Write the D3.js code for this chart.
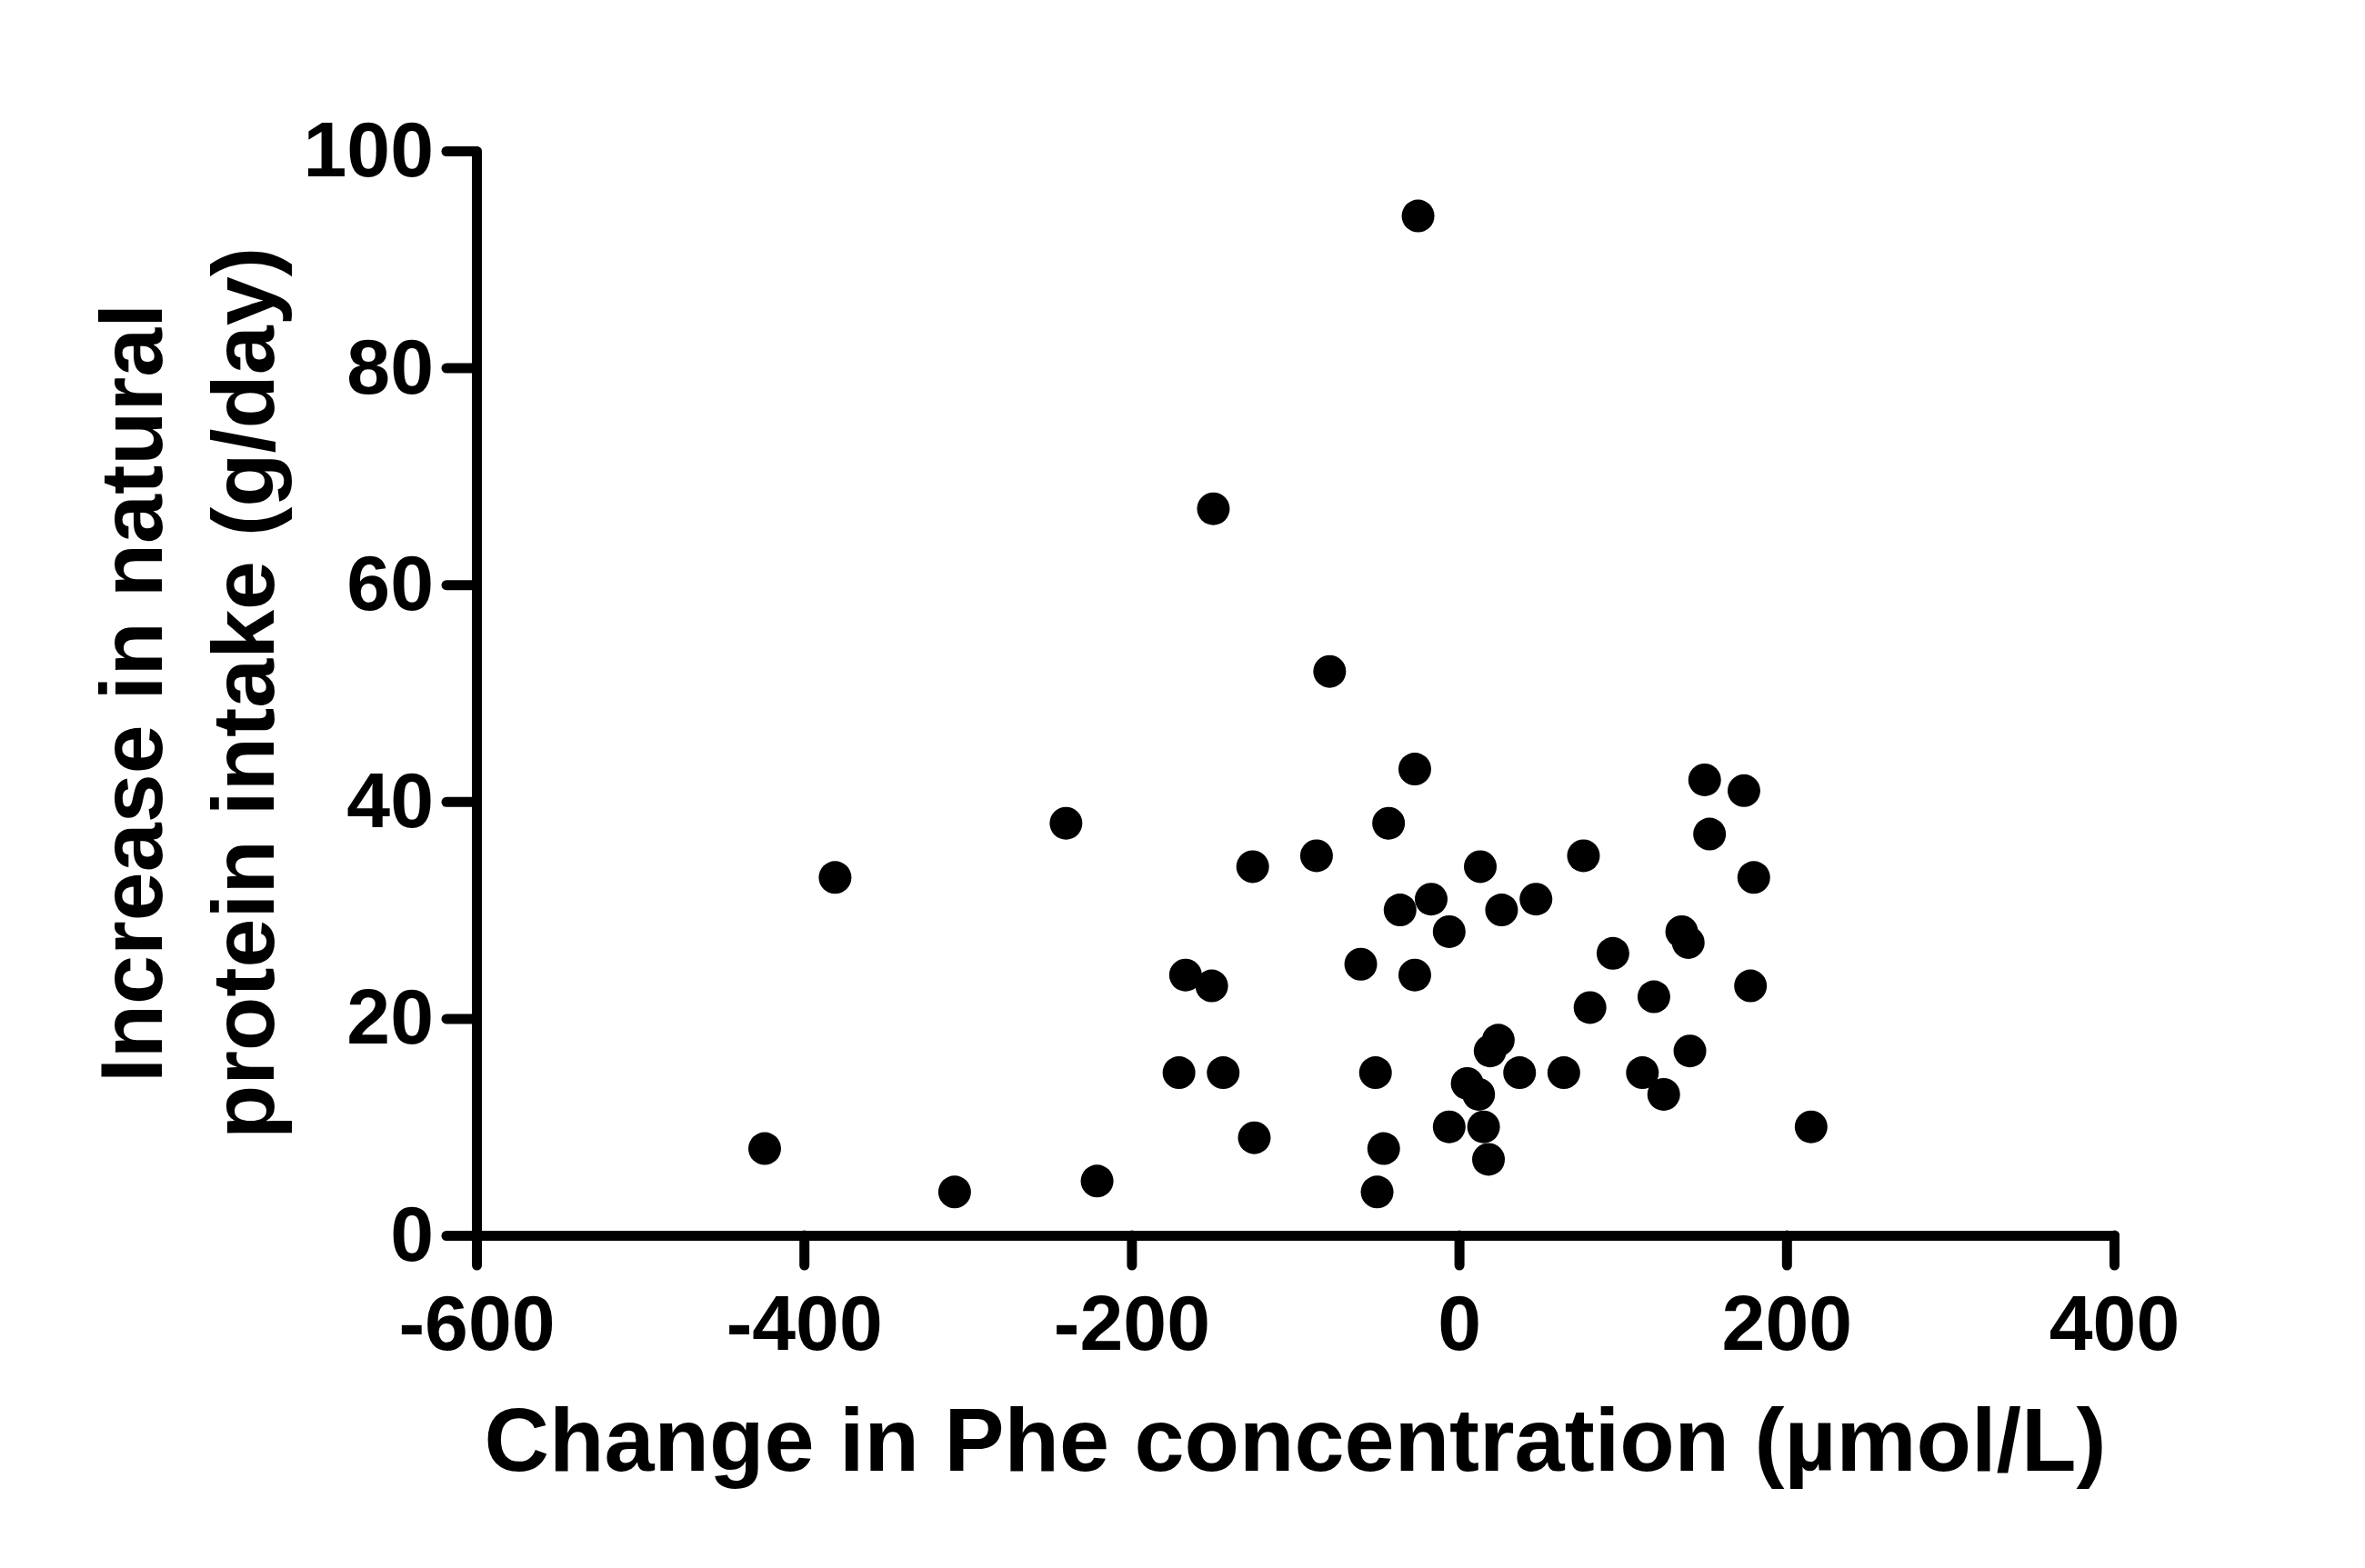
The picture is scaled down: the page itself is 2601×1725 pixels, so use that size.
<!DOCTYPE html>
<html>
<head>
<meta charset="utf-8">
<script src="https://cdn.jsdelivr.net/npm/d3@7"></script>
<style>
	body { margin: 0; background: #fff; }
	text { font-family: "Liberation Sans", Arial, sans-serif; font-weight: bold; fill: #000; }
</style>
</head>
<body>
<svg id="chart" width="2601" height="1725"></svg>
<script>
//------------------------------------------------------------------------------
// Data

var phe = [
	-424, -381, -308, -240, -221, -171, -167, -151, -150, -144,
	-126, -125, -87, -79, -60, -51, -50, -46, -43, -36,
	-27, -27, -25, -17, -6, -6, 5, 12, 13, 15,
	18, 19, 24, 26, 37, 47, 64, 76, 80, 94,
	112, 119, 125, 136, 140, 141, 150, 153, 174, 178,
	180, 215
];
var protein = [
	8, 33, 4, 38, 5, 15, 24, 23, 67, 15,
	34, 9, 35, 52, 25, 15, 4, 8, 38, 30,
	43, 24, 94, 31, 28, 10, 14, 13, 34, 10,
	7, 17, 18, 30, 15, 31, 15, 35, 21, 26,
	15, 22, 13, 28, 27, 17, 42, 37, 41, 23,
	33, 10
];
var xTicks = [-600, -400, -200, 0, 200, 400];
var yTicks = [0, 20, 40, 60, 80, 100];
var xTitle = 'Change in Phe concentration (\u00b5mol/L)';
var yTitle = ['Increase in natural', 'protein intake (g/day)'];

//------------------------------------------------------------------------------
// Layout

var svg = d3.select('#chart');
var x = d3.scaleLinear().domain([-600, 400]).range([524, 2325]);
var y = d3.scaleLinear().domain([0, 100]).range([1359, 166]);

function styleAxis(g)
{
	g.selectAll('path, line')
		.attr('stroke', '#000')
		.attr('stroke-width', 11)
		.attr('stroke-linecap', 'round');
	g.selectAll('text')
		.attr('fill', '#000')
		.style('font-size', '86px')
		.style('font-family', '"Liberation Sans", Arial, sans-serif')
		.style('font-weight', 'bold');
}

svg.append('g')
	.attr('transform', 'translate(0,' + y(0) + ')')
	.call(d3.axisBottom(x)
		.tickValues(xTicks)
		.tickFormat(function (d) { return String(d); })
		.tickSize(33)
		.tickSizeOuter(0)
		.tickPadding(32))
	.call(styleAxis);

svg.append('g')
	.attr('transform', 'translate(' + x(-600) + ',0)')
	.call(d3.axisLeft(y)
		.tickValues(yTicks)
		.tickFormat(function (d) { return String(d); })
		.tickSize(33)
		.tickSizeOuter(0)
		.tickPadding(14))
	.call(styleAxis);

//------------------------------------------------------------------------------
// Points

svg.append('g')
	.selectAll('circle')
	.data(d3.zip(phe, protein))
	.enter().append('circle')
	.attr('cx', function (d) { return x(d[0]); })
	.attr('cy', function (d) { return y(d[1]); })
	.attr('r', 18)
	.attr('fill', '#000');

//------------------------------------------------------------------------------
// Titles

svg.append('text')
	.attr('x', (x.range()[0] + x.range()[1]) / 2)
	.attr('y', 1618)
	.attr('text-anchor', 'middle')
	.style('font-size', '99px')
	.text(xTitle);

var yMid = (y.range()[0] + y.range()[1]) / 2;
svg.append('g')
	.selectAll('text')
	.data(yTitle)
	.enter().append('text')
	.attr('transform', function (d, i) {
		return 'translate(' + (178 + i * 123) + ',' + yMid + ') rotate(-90)';
	})
	.attr('text-anchor', 'middle')
	.style('font-size', '97px')
	.text(function (d) { return d; });
</script>
</body>
</html>
